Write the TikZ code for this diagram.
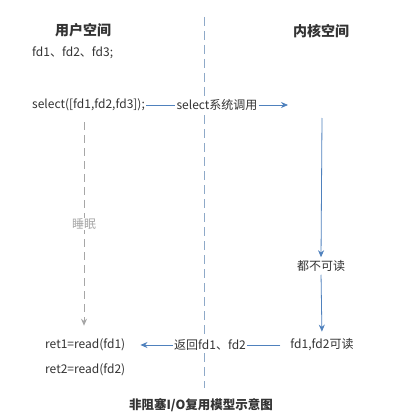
\documentclass[tikz,border=0pt]{standalone}
\usepackage{fontspec}
\usetikzlibrary{arrows.meta}
\setmainfont{Noto Sans CJK SC}
\definecolor{txtgray}{HTML}{333333}
\definecolor{callblue}{HTML}{4F81BD}
\definecolor{sleepgray}{HTML}{A6A6A6}
\definecolor{divblue}{HTML}{8EA9C8}
\tikzset{
  lbl/.style={text=txtgray,font=\fontsize{12}{14}\selectfont,inner sep=1pt},
  head/.style={text=txtgray,font=\fontsize{14}{16}\selectfont\bfseries},
  flow/.style={draw=callblue,line width=0.8pt},
  sleepy/.style={draw=sleepgray,line width=1pt,dash pattern=on 8pt off 5pt}
}
\begin{document}
\begin{tikzpicture}[x=1pt,y=-1pt,>={Stealth[length=7pt,width=6pt]}]
  \useasboundingbox[fill=white] (0,0) rectangle (401,417);
  % divider between the two spaces
  \draw[divblue,line width=0.8pt,dash pattern=on 9pt off 5pt] (204,17) -- (204,388);
  \node[head] (userT) at (83,30) {用户空间};
  \node[head] (kernT) at (321,31) {内核空间};
  \node[lbl,anchor=west] (fds) at (31,53) {fd1、fd2、fd3;};
  \node[lbl,anchor=west] (sel) at (31,105) {select([fd1,fd2,fd3]);};
  \node[lbl,fill=white] (call) at (217,105) {select系统调用};
  \coordinate (kin) at (288,105);
  \draw[flow] (sel) -- (call);
  \draw[flow,->] (call) -- (kin);
  % kernel side
  \coordinate (k1) at (322,118);
  \node[lbl] (none) at (321,266) {都不可读};
  \node[lbl] (ready) at (322,345) {fd1,fd2可读};
  \draw[flow,->,shorten >=2pt] (k1) -- (none.north);
  \draw[flow,->,shorten <=2pt,shorten >=6pt] (none.south) -- (ready.north);
  % back to user
  \node[lbl,fill=white] (back) at (210,345) {返回fd1、fd2};
  \node[lbl,anchor=west] (ret1) at (44,345) {ret1=read(fd1)};
  \node[lbl,anchor=west] (ret2) at (44,370) {ret2=read(fd2)};
  \draw[flow,shorten <=9pt] (ready.west) -- (back.east);
  \draw[flow,->,shorten >=14pt] (back.west) -- (ret1.east);
  % sleeping process
  \coordinate (s1) at (84,122);
  \draw[sleepy,->,shorten >=12pt] (s1) -- (s1 |- ret1.north);
  \node[lbl,text=sleepgray,fill=white] (sleep) at (84,224) {睡眠};
  \node[head,font=\fontsize{12.5}{15}\selectfont\bfseries] (cap) at (201,405) {非阻塞I/O复用模型示意图};
\end{tikzpicture}
\end{document}
